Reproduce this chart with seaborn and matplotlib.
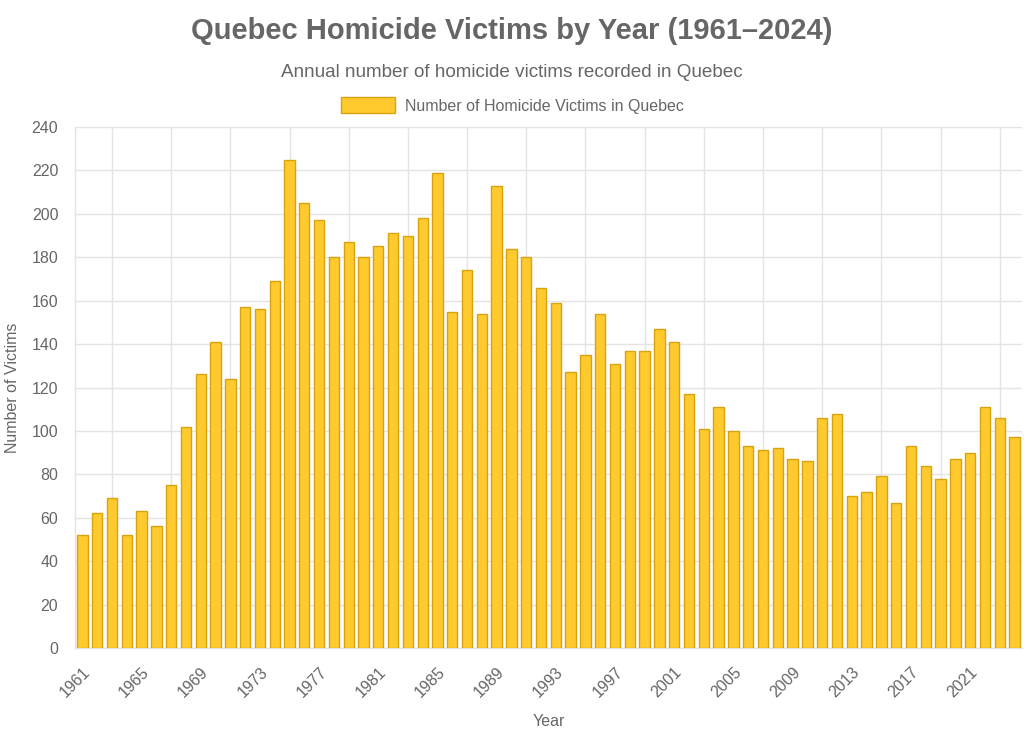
import numpy as np
import pandas as pd
import seaborn as sns
import matplotlib
matplotlib.use("Agg")
from matplotlib import pyplot as plt
from matplotlib.patches import Patch

# data
years = list(range(1961, 2025))
victims = [52, 62, 69, 52, 63, 56, 75, 102, 126, 141,
           124, 157, 156, 169, 225, 205, 197, 180, 187, 180,
           185, 191, 190, 198, 219, 155, 174, 154, 213, 184,
           180, 166, 159, 127, 135, 154, 131, 137, 137, 147,
           141, 117, 101, 111, 100, 93, 91, 92, 87, 86,
           106, 108, 70, 72, 79, 67, 93, 84, 78, 87,
           90, 111, 106, 97]
series_label = "Number of Homicide Victims in Quebec"

df = pd.DataFrame({"Year": [str(y) for y in years], "Victims": victims})

sns.set_style("white")
plt.rcParams["font.family"] = ["Liberation Sans", "DejaVu Sans"]

fill = "#FFCA2E"
edge = "#D9A30F"
text_col = "#666666"
grid_col = "#E4E4E4"

fig = plt.figure(figsize=(10.24, 7.36), dpi=100)
ax = fig.add_axes([0.0732, 0.1196, 0.9248, 0.7078])

sns.barplot(data=df, x="Year", y="Victims", color=fill, edgecolor=edge,
            linewidth=1, width=0.7, saturation=1, ax=ax, zorder=3)

n = len(years)
ax.set_xlim(-0.5, n - 0.5)
ax.set_ylim(0, 240)
ax.set_yticks(np.arange(0, 241, 20))

# labels every 4 years, grid lines half-way between labelled ticks
label_pos = list(range(0, n, 4))
ax.set_xticks(label_pos)
ax.set_xticklabels([str(years[i]) for i in label_pos], rotation=45,
                   ha="right", rotation_mode="anchor")
ax.set_xticks([p + 2 for p in label_pos], minor=True)
ax.tick_params(axis="x", which="major", length=0, pad=12,
               labelsize=11.5, labelcolor=text_col)
ax.tick_params(axis="x", which="minor", length=8, width=1, color=grid_col)
ax.tick_params(axis="y", length=8, width=1, color=grid_col, pad=4,
               labelsize=11.5, labelcolor=text_col)
ax.grid(axis="x", which="minor", color=grid_col, linewidth=1, zorder=0)
ax.grid(axis="y", which="major", color=grid_col, linewidth=1, zorder=0)
ax.set_axisbelow(True)

for side in ["top", "right"]:
    ax.spines[side].set_visible(False)
for side in ["left", "bottom"]:
    ax.spines[side].set_color(grid_col)
    ax.spines[side].set_linewidth(1)

ax.set_xlabel("Year", fontsize=11.5, color=text_col, labelpad=10)
ax.set_ylabel("Number of Victims", fontsize=11.5, color=text_col, labelpad=8)

fig.text(0.5, 0.958, "Quebec Homicide Victims by Year (1961\u20132024)",
         ha="center", va="center", fontsize=21, fontweight="bold", color=text_col)
fig.text(0.5, 0.901, "Annual number of homicide victims recorded in Quebec",
         ha="center", va="center", fontsize=13.6, color=text_col)

handle = Patch(facecolor=fill, edgecolor=edge, linewidth=1)
leg = fig.legend([handle], [series_label], loc="center",
                 bbox_to_anchor=(0.5, 0.857), frameon=False, fontsize=11.5,
                 handlelength=3.4, handleheight=1.2, handletextpad=0.6)
for t in leg.get_texts():
    t.set_color(text_col)

fig.savefig("out.png", dpi=100)
